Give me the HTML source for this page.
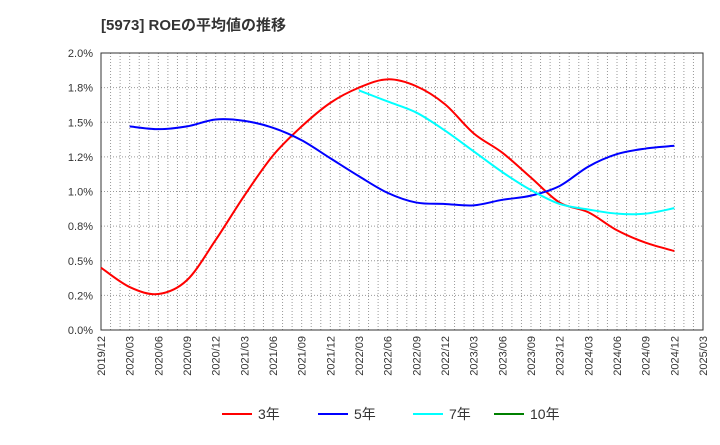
<!DOCTYPE html>
<html><head><meta charset="utf-8"><style>
body{margin:0;background:#fff;font-family:"Liberation Sans","Noto Sans CJK JP",sans-serif}
</style></head><body>
<svg id="c" width="720" height="440" xmlns="http://www.w3.org/2000/svg">
<text x="101" y="30" font-size="15" font-weight="bold" fill="#333" font-family="Liberation Sans, Noto Sans CJK JP, sans-serif">[5973]  ROEの平均値の推移</text>
<g id="grid"></g><g id="axes"></g><g id="series"></g><g id="legend"></g>
</svg>
<script>
const xLabels=["2019/12","2020/03","2020/06","2020/09","2020/12","2021/03","2021/06","2021/09","2021/12","2022/03","2022/06","2022/09","2022/12","2023/03","2023/06","2023/09","2023/12","2024/03","2024/06","2024/09","2024/12","2025/03"];
const yTicks=[0,0.25,0.5,0.75,1,1.25,1.5,1.75,2];
const yLabels=["0.0%","0.2%","0.5%","0.8%","1.0%","1.2%","1.5%","1.8%","2.0%"];
const s3=[0.45,0.31,0.26,0.26,0.36,0.65,0.97,1.26,1.47,1.64,1.75,1.81,1.76,1.63,1.42,1.28,1.10,0.92,0.85,0.72,0.63,0.57];
const s3b=[0.45,0.31,0.26,0.36,0.65,0.97,1.26,1.47,1.64,1.75,1.81,1.76,1.63,1.42,1.28,1.10,0.92,0.85,0.72,0.63,0.57];
const s5=[null,1.47,1.45,1.47,1.52,1.51,1.46,1.37,1.24,1.11,0.99,0.92,0.91,0.90,0.94,0.97,1.04,1.18,1.27,1.31,1.33];
const s7=[null,null,null,null,null,null,null,null,null,1.73,1.65,1.57,1.44,1.29,1.14,1.01,0.91,0.87,0.84,0.84,0.88];
const s10=[];
const L=101,R=703,T=53,B=330;
const NS="http://www.w3.org/2000/svg";
const xs=i=>L+(R-L)*i/(xLabels.length-1);
const ys=v=>B-(B-T)*v/2;
function mk(t,a,p){const e=document.createElementNS(NS,t);for(const k in a)e.setAttribute(k,a[k]);p.appendChild(e);return e;}
const grid=document.getElementById('grid'),axes=document.getElementById('axes'),ser=document.getElementById('series'),leg=document.getElementById('legend');
mk('rect',{x:L,y:T,width:R-L,height:B-T,fill:'#fff'},grid);
for(let m=1;m<(xLabels.length-1)*3;m++){const x=L+(R-L)*m/((xLabels.length-1)*3);
const l=mk('line',{x1:x,x2:x,y1:T,y2:B,stroke:'#999','stroke-dasharray':'1,2','stroke-width':1},grid);
}
yTicks.forEach((v,i)=>{const y=ys(v);
const l=mk('line',{x1:L,x2:R,y1:y,y2:y,stroke:'#999','stroke-dasharray':'1,2'},grid);

const t=mk('text',{x:L-8,y:y+4,'text-anchor':'end','font-size':11,fill:'#333'},axes);t.textContent=yLabels[i];
});
xLabels.forEach((s,i)=>{const x=xs(i);
const t=mk('text',{x:x+4,y:B+6,'text-anchor':'end','font-size':11,fill:'#333',transform:`rotate(-90 ${x+4} ${B+6})`},axes);t.textContent=s;
});
const fr=mk('rect',{x:L,y:T,width:R-L,height:B-T,fill:'none',stroke:'#333'},axes);

function line(arr,col,name){let pts=[];arr.forEach((v,i)=>{if(v!=null)pts.push([xs(i),ys(v)]);});
if(pts.length<2)return;let d='M'+pts[0].join(',');
for(let i=0;i<pts.length-1;i++){const p0=pts[Math.max(0,i-1)],p1=pts[i],p2=pts[i+1],p3=pts[Math.min(pts.length-1,i+2)];
d+=` C${p1[0]+(p2[0]-p0[0])/6},${p1[1]+(p2[1]-p0[1])/6} ${p2[0]-(p3[0]-p1[0])/6},${p2[1]-(p3[1]-p1[1])/6} ${p2[0]},${p2[1]}`;}
const p=mk('path',{d:d,fill:'none',stroke:col,'stroke-width':2},ser);
}
line(s3b,'#ff0000','series-3y');line(s5,'#0000ff','series-5y');line(s7,'#00ffff','series-7y');line(s10,'#008000','series-10y');
[["3年","#ff0000",222],["5年","#0000ff",318],["7年","#00ffff",413],["10年","#008000",494]].forEach(e=>{
const g=mk('g',{},leg);
mk('line',{x1:e[2],x2:e[2]+30,y1:414,y2:414,stroke:e[1],'stroke-width':2},g);
const t=mk('text',{x:e[2]+36,y:419,'font-size':14,fill:'#333'},g);t.textContent=e[0];});
</script>
</body></html>
